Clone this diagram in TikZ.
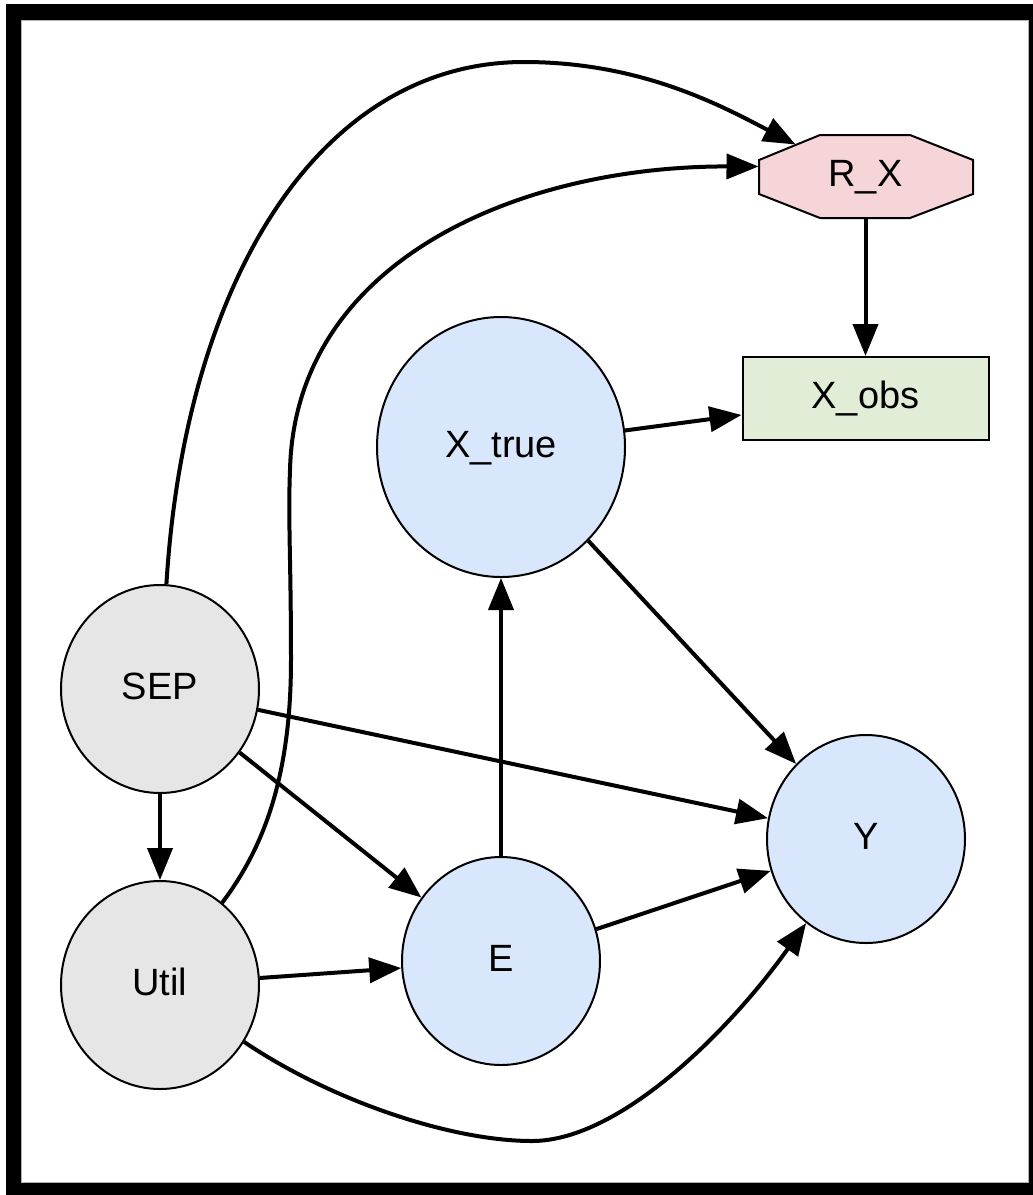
\documentclass[tikz,border=0pt]{standalone}
\usepackage{fontspec}
\setmainfont{Liberation Sans}
\usetikzlibrary{arrows.meta,shapes.geometric,calc}
\definecolor{nblue}{HTML}{D9E7FC}
\definecolor{ngray}{HTML}{E6E6E6}
\definecolor{npink}{HTML}{F6D5D8}
\definecolor{ngreen}{HTML}{E2EDD8}
\begin{document}
\begin{tikzpicture}[x=1pt,y=-1pt,
  lbl/.style={font=\fontsize{38}{44}\selectfont,text height=27pt,text depth=7pt,inner sep=0pt},
  circ/.style={lbl,ellipse,draw=black,line width=2pt,minimum width=198pt,minimum height=208pt},
  boxnode/.style={lbl,rectangle,draw=black,line width=2pt,fill=ngreen,minimum width=246pt,minimum height=83pt},
  edge/.style={line width=4pt,-{Triangle[length=32pt,width=25pt]}}]
\useasboundingbox (0,0) rectangle (1033,1195);
% frame
\fill[black] (6,4) rectangle (1033,1195);
\fill[white] (21,20) rectangle (1028,1182);
\draw[gray!60,line width=1pt] (21,20) rectangle (1028,1182);
% octagon for R_X
\filldraw[fill=npink,draw=black,line width=2pt,line join=miter]
  (759,160) -- (820,135) -- (910,135) -- (973,160) -- (973,194) -- (910,218) -- (820,218) -- (759,194) -- cycle;
\node[lbl,minimum width=214pt,minimum height=83pt] (RX) at (865.5,176.5) {R\_X};
% nodes
\node[boxnode] (Xobs) at (865.5,398.5) {X\_obs};
\node[circ,fill=nblue,minimum width=248pt,minimum height=260pt] (Xtrue) at (501,447) {X\_true};
\node[circ,fill=ngray] (SEP) at (160,689) {SEP};
\node[circ,fill=ngray] (Util) at (160,985) {Util};
\node[circ,fill=nblue] (E) at (501,961) {E};
\node[circ,fill=nblue] (Y) at (866,839) {Y};
% edges
\draw[edge] (SEP) .. controls (185,280) and (320,62) .. (524,62)
  .. controls (640,62) and (720,105) .. ($(RX.center)+(-70,-32)$);
\draw[edge] (Util) .. controls (262,850) and (291,780) .. (291,660)
  .. controls (291,560) and (288,520) .. (290,470)
  .. controls (295,260) and (520,166) .. ($(RX.center)+(-107,-10)$);
\draw[edge] (RX) -- (Xobs);
\draw[edge] (Xtrue) -- (Xobs);
\draw[edge] (Xtrue) -- (Y);
\draw[edge] (E) -- (Xtrue);
\draw[edge] (SEP) -- (Y);
\draw[edge] (SEP) -- (E);
\draw[edge] (SEP) -- (Util);
\draw[edge] (Util) -- (E);
\draw[edge] (E) -- (Y);
\draw[edge] (Util) .. controls (330,1100) and (450,1141) .. (532,1141)
  .. controls (620,1141) and (730,1030) .. (Y);
\end{tikzpicture}
\end{document}
